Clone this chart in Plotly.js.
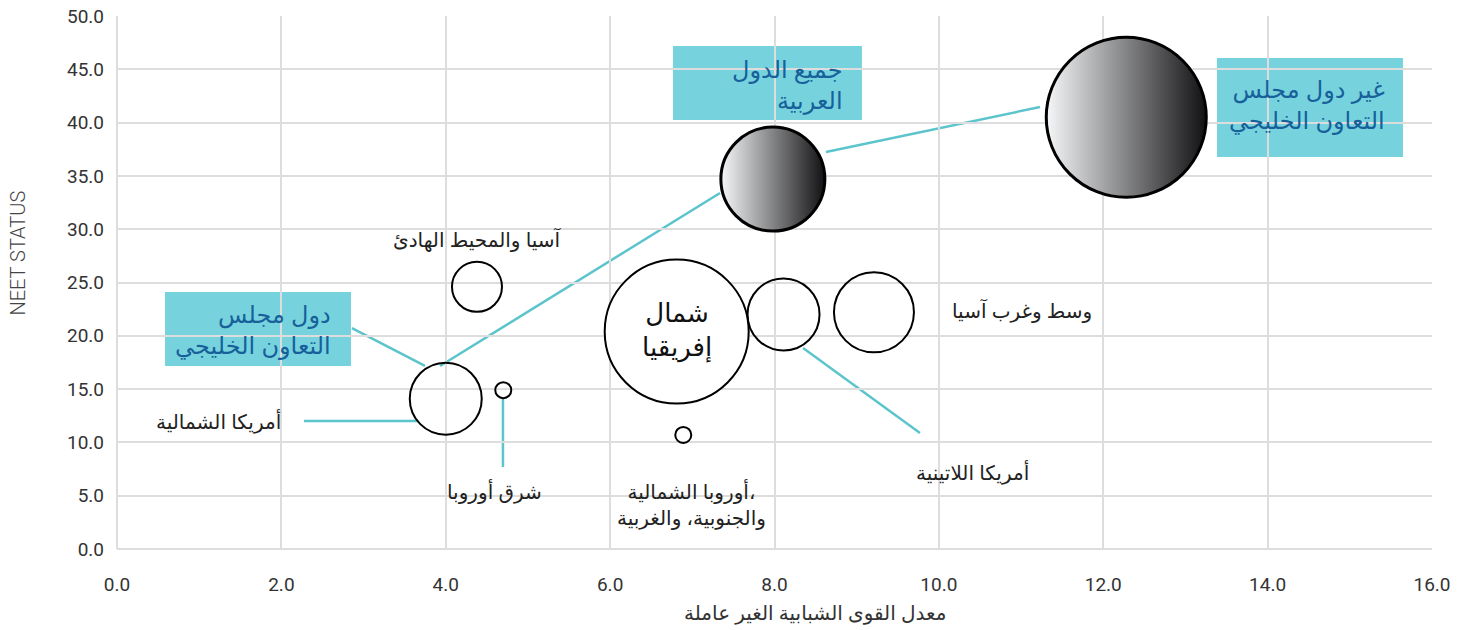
<!DOCTYPE html>
<html>
<head>
<meta charset="utf-8">
<script src="https://cdn.plot.ly/plotly-3.0.1.min.js"></script>
<style>html,body{margin:0;padding:0;background:#fff;}#chart{width:1463px;height:630px;}</style>
</head>
<body>
<div id="chart"></div>
<script>
// Regions (plain bubbles)
const regionNames = ["شمال إفريقيا", "أمريكا اللاتينية", "وسط وغرب آسيا", "آسيا والمحيط الهادئ", "أمريكا الشمالية", "شرق أوروبا", "أوروبا الشمالية، والجنوبية، والغربية"];
const regionX = [6.81, 8.11, 9.21, 4.38, 4.00, 4.70, 6.89];
const regionY = [20.4, 22.0, 22.2, 24.6, 14.1, 14.9, 10.7];
const regionSize = [144, 72, 80, 50, 72, 16, 16];

// Arab aggregates (gradient bubbles)
const arabNames = ["جميع الدول العربية", "غير دول مجلس التعاون الخليجي"];
const arabX = [7.98, 12.28];
const arabY = [34.7, 40.5];
const arabSize = [104, 160];

// Axis ticks
const xTicks = [0, 2, 4, 6, 8, 10, 12, 14, 16];
const yTicks = [0, 5, 10, 15, 20, 25, 30, 35, 40, 45, 50];

const arFont = "Noto Sans, DejaVu Sans, sans-serif";
const numFont = "Roboto, Noto Sans, sans-serif";
const teal = "#5cc4cc";
const boxFill = "#76d3de";
const boxText = "#17609a";

const traces = [
  {
    type: "scatter", mode: "markers", x: regionX, y: regionY, text: regionNames,
    hoverinfo: "text",
    marker: {size: regionSize, sizemode: "diameter", opacity: 1,
      color: regionNames.map((n, i) => i === 0 ? "#ffffff" : "rgba(255,255,255,0)"),
      line: {color: "#000", width: 2}},
    showlegend: false
  },
  {
    type: "scatter", mode: "markers", x: arabX, y: arabY, text: arabNames,
    hoverinfo: "text",
    marker: {size: arabSize, sizemode: "diameter", color: "#f6f7f8", opacity: 1,
      gradient: {type: "horizontal", color: "#111113"},
      line: {color: "#000", width: 3}},
    showlegend: false
  }
];

// leader lines [x0,y0,x1,y1]
const leaders = [
  [2.859, 20.73, 3.747, 17.17],
  [3.930, 17.17, 7.337, 33.40],
  [8.626, 37.24, 11.230, 41.46],
  [2.275, 12.01, 3.662, 12.01],
  [4.696, 14.16, 4.696, 7.69],
  [8.347, 18.86, 9.770, 10.88]
];
// label boxes [x0,x1,y0,y1]
const boxes = [
  [6.765, 9.064, 40.24, 47.19],
  [13.384, 15.647, 36.77, 46.06],
  [0.584, 2.847, 17.17, 24.11]
];

const shapes = [];
leaders.forEach(l => shapes.push({type: "line", xref: "x", yref: "y", x0: l[0], y0: l[1], x1: l[2], y1: l[3], line: {color: teal, width: 2.5}, layer: "below"}));
boxes.forEach(b => shapes.push({type: "rect", xref: "x", yref: "y", x0: b[0], x1: b[1], y0: b[2], y1: b[3], fillcolor: boxFill, line: {width: 0}, layer: "below"}));

const plain = {family: arFont, size: 20, color: "#222"};
const boxF = {family: arFont, size: 24, color: boxText};
const annotations = [
  {x: 4.392, y: 28.99, text: "آسيا والمحيط الهادئ", font: plain, xanchor: "center"},
  {x: 2.020, y: 12.0, text: "أمريكا الشمالية", font: plain, xanchor: "right"},
  {x: 4.599, y: 5.35, text: "شرق أوروبا", font: plain, xanchor: "center"},
  {x: 6.996, y: 4.22, text: "أوروبا الشمالية،<br>والجنوبية، والغربية", font: plain, xanchor: "center", align: "center"},
  {x: 6.813, y: 20.6, text: "شمال<br>إفريقيا", font: {family: arFont, size: 26, color: "#111", weight: 500}, xanchor: "center", align: "center"},
  {x: 11.011, y: 22.33, text: "وسط وغرب آسيا", font: plain, xanchor: "center"},
  {x: 10.403, y: 7.13, text: "أمريكا اللاتينية", font: plain, xanchor: "center"},
  {x: 8.858, y: 43.62, text: "جميع الدول<br>العربية", font: boxF, xanchor: "right", align: "right"},
  {x: 15.452, y: 41.74, text: "غير دول مجلس<br>التعاون الخليجي", font: boxF, xanchor: "right", align: "right"},
  {x: 2.628, y: 20.64, text: "دول مجلس<br>التعاون الخليجي", font: boxF, xanchor: "right", align: "right"},
  {xref: "paper", yref: "paper", x: 0.531, y: -0.12, yanchor: "middle", text: "معدل القوى الشبابية الغير عاملة", font: {family: arFont, size: 20, color: "#333"}},
  {xref: "paper", yref: "paper", x: -0.075, y: 0.555, xanchor: "center", yanchor: "middle", textangle: -90, text: "NEET STATUS", font: {family: numFont, size: 20, color: "#444", weight: 300}}
].map(a => Object.assign({xref: "x", yref: "y", showarrow: false, yanchor: "middle"}, a));

const tickF = {family: numFont, size: 19, color: "#333", weight: 400};
const layout = {
  width: 1463, height: 630,
  margin: {l: 117, r: 31, t: 16, b: 81},
  paper_bgcolor: "#fff", plot_bgcolor: "#fff",
  xaxis: {range: [0, 16], tickvals: xTicks, tickformat: ".1f", showgrid: true, gridcolor: "#dddddd", gridwidth: 2,
    zeroline: true, zerolinecolor: "#dddddd", zerolinewidth: 2, showline: false, ticks: "", ticklabelstandoff: 22,
    tickfont: tickF, fixedrange: true},
  yaxis: {range: [0, 50], tickvals: yTicks, tickformat: ".1f", showgrid: true, gridcolor: "#dddddd", gridwidth: 2,
    zeroline: true, zerolinecolor: "#dddddd", zerolinewidth: 2, showline: false, ticks: "", ticklabelstandoff: 12,
    tickfont: tickF, fixedrange: true},
  shapes: shapes,
  annotations: annotations,
  showlegend: false
};

Plotly.newPlot("chart", traces, layout, {displayModeBar: false, staticPlot: true});
</script>
</body>
</html>
